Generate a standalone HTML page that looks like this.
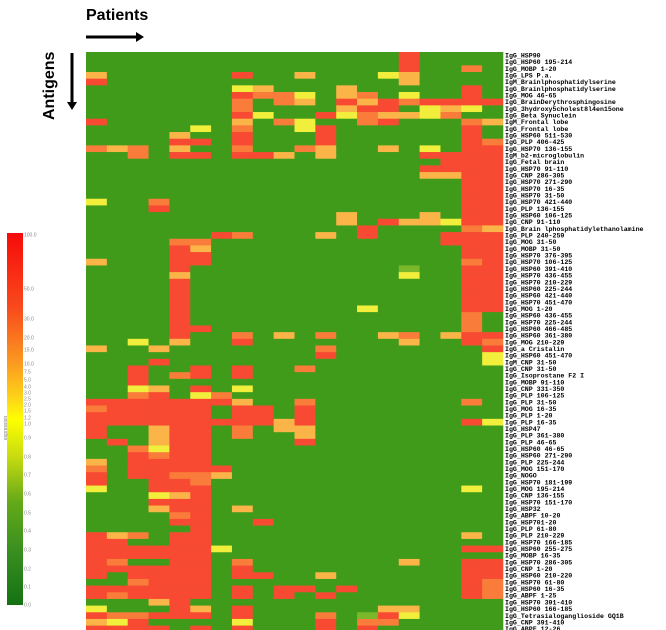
<!DOCTYPE html>
<html><head><meta charset="utf-8"><style>
html,body{margin:0;padding:0;background:#fff;}
svg{display:block;}
</style></head><body>
<svg id="chart" width="666" height="630" xmlns="http://www.w3.org/2000/svg">
<defs>
<linearGradient id="cbar" x1="0" y1="0" x2="0" y2="1">
<stop offset="0" stop-color="#f70a0a"/><stop offset="0.2" stop-color="#f84a1c"/><stop offset="0.35" stop-color="#fb9a20"/><stop offset="0.45" stop-color="#fdd818"/><stop offset="0.5" stop-color="#ffff00"/><stop offset="0.6" stop-color="#c8dc10"/><stop offset="0.72" stop-color="#66aa18"/><stop offset="0.85" stop-color="#3a9020"/><stop offset="1" stop-color="#137212"/>
</linearGradient>
</defs>
<text x="86" y="20" font-family="Liberation Sans, sans-serif" font-weight="bold" font-size="16" fill="#000">Patients</text>
<g><rect x="86" y="35.5" width="50" height="3" fill="#000"/><polygon points="136,32 144,37 136,42" fill="#000"/></g>
<text transform="translate(54,120) rotate(-90)" font-family="Liberation Sans, sans-serif" font-weight="bold" font-size="16" fill="#000">Antigens</text>
<g><rect x="70.5" y="53" width="3" height="50" fill="#000"/><polygon points="67,102 72,110 77,102" fill="#000"/></g>
<g id="cells"></g>
<g id="rowlabels"></g>
<rect x="7" y="233" width="16" height="372" fill="url(#cbar)"/>
<g id="legendticks"></g>
<text transform="translate(7,440) rotate(-90)" font-family="Liberation Sans, sans-serif" font-size="5" fill="#777">expression</text>
</svg>
<script>
const patients = ["P1","P2","P3","P4","P5","P6","P7","P8","P9","P10","P11","P12","P13","P14","P15","P16","P17","P18","P19","P20"];
const antigens = ["IgG_HSP90","IgG_HSP60 195-214","IgG_MOBP 1-20","IgG_LPS P.a.","IgM_Brainlphosphatidylserine","IgG_Brainlphosphatidylserine","IgG_MOG 46-65","IgG_BrainDerythrosphingosine","IgG_3hydroxy5cholest8l4en15one","IgG_Beta Synuclein","IgM_Frontal lobe","IgG_Frontal lobe","IgG_HSP60 511-530","IgG_PLP 406-425","IgG_HSP70 136-155","IgM_b2-microglobulin","IgG_Fetal brain","IgG_HSP70 91-110","IgG_CNP 286-305","IgG_HSP70 271-290","IgG_HSP70 16-35","IgG_HSP70 31-50","IgG_HSP70 421-440","IgG_PLP 136-155","IgG_HSP60 106-125","IgG_CNP 91-110","IgG_Brain lphosphatidylethanolamine","IgG_PLP 240-259","IgG_MOG 31-50","IgG_MOBP 31-50","IgG_HSP70 376-395","IgG_HSP70 106-125","IgG_HSP60 391-410","IgG_HSP70 436-455","IgG_HSP70 210-229","IgG_HSP60 225-244","IgG_HSP60 421-440","IgG_HSP70 451-470","IgG_MOG 1-20","IgG_HSP60 436-455","IgG_HSP70 225-244","IgG_HSP60 466-485","IgG_HSP60 361-380","IgG_MOG 210-229","IgG_a Cristalin","IgG_HSP60 451-470","IgM_CNP 31-50","IgG_CNP 31-50","IgG_Isoprostane F2 I","IgG_MOBP 91-110","IgG_CNP 331-350","IgG_PLP 106-125","IgG_PLP 31-50","IgG_MOG 16-35","IgG_PLP 1-20","IgG_PLP 16-35","IgG_HSP47","IgG_PLP 361-380","IgG_PLP 46-65","IgG_HSP60 46-65","IgG_HSP60 271-290","IgG_PLP 225-244","IgG_MOG 151-170","IgG_NOGO","IgG_HSP70 181-199","IgG_MOG 195-214","IgG_CNP 136-155","IgG_HSP70 151-170","IgG_HSP32","IgG_ABPF 10-20","IgG_HSP701-20","IgG_PLP 61-80","IgG_PLP 210-229","IgG_HSP70 166-185","IgG_HSP60 255-275","IgG_MOBP 16-35","IgG_HSP70 286-305","IgG_CNP 1-20","IgG_HSP60 210-220","IgG_HSP70 61-80","IgG_HSP60 16-35","IgG_ABPF 1-25","IgG_HSP70 391-410","IgG_HSP60 166-185","IgG_Tetrasialoganglioside GQ1B","IgG_CNP 391-410","IgG_ABPF 12-26"];
// expression level per code letter
const levelCodes = ["g","l","y","a","o","r"];
const levelValues = [0.25, 0.6, 1.0, 2.5, 7, 50];
// one string per antigen row, one letter per patient column
const rowCodes = [
"gggggggggggggggrgggg","gggggggggggggggrgggg","gggggggggggggggrggog","aggggggrggagggyagggg","rggggggggggggggagggg",
"gggggggyagggagggggrg","gggggggrooygaogyggrg","gggggggogoagrarorrrr","gggggggoggggarrgyayg","gggggggryggryoaayogg",
"rggggggagoyggorgggoa","gggggygoggyrggggggrg","ggggaggrgggrggggggrg","ggggrrgrgggrggggggro","oaogaggoggoaggagygrr",
"ggogrrgrragaggggrrrr","gggggggggggggggggrrr","ggggggggggggggggrrrr","ggggggggggggggggaarr","ggggggggggggggggggrr",
"ggggggggggggggggggrr","ggggggggggggggggggrr","yggoggggggggggggggrr","gggrggggggggggggggrr","ggggggggggggagggagrr",
"ggggggggggggagraayrr","gggggggggggggrggggoa","ggggggrogggagrgggrrr","ggggoogggggggggggrrr","ggggraggggggggggggrr",
"ggggrrggggggggggggrr","agggrrggggggggggggor","ggggrgggggggggglggrr","ggggaggggggggggyggrr","ggggrgggggggggggggrr",
"ggggrgggggggggggggrr","ggggrgggggggggggggrr","ggggrgggggggggggggrr","ggggrggggggggyggggrr","ggggrgggggggggggggog",
"ggggrgggggggggggggog","ggggrrggggggggggggog","ggggrggogagoggaogarr","ggygaggrgggggggaggro","aggagggggggogggggggr",
"gggggggggggrgggggggy","gggrgggggggggggggggy","ggrggrgrggoggggggggg","ggrgorgrgggggggggggg","ggrggggggggggggggggg",
"ggyagrgygggggggggggg","ggorgyoggggggggggggg","rrrrrrraggogggggggog","orrrrrgrrgrggggggggg","rrrrrrgrrgrggggggggg",
"rrrrrrrrrargggggggry","rggarrgogaaggggggggg","rggarrgoggaggggggggg","grgarrggggrggggggggg","ggoyrrgggggggggggggg",
"ggrorrgggggggggggggg","agrrrrgggggggggggggg","ogrrrrrggggggggggggg","rgrrooaggggggggggggg","rggrrogggggggggggggg",
"yggrrrggggggggggggyg","gggyargggggggggggggg","gggrrrgggggggggggggg","gggarrgagggggggggggg","ggggorgggggggggggggg",
"ggggrrggrggggggggggg","gggggrgggggggggggggg","raogrrggggggggggggag","rrggrrgggggggggggggg","rrrrrrygggggggggggrr",
"rrrrrrgggggggggggggg","roggrrgogggggggaggrr","rrrrrrgrggggggggggrr","rgrrrrgrrggaggggggrr","ggorrrggggggggggggro",
"rrrrrrgrgrrgrgggggro","rorrrrgrgrgrggggggro","gggarggggggggggggggg","ygggragrggggggaagggg","roorrrgrgggoglrygggg",
"ayrggggygggrgooggggg","rrrrgrgrgggrgrgggggg"
];
const legendLabels = ["100.0","50.0","30.0","20.0","15.0","10.0","7.5","5.0","4.0","3.0","2.5","2.0","1.5","1.2","1.0","0.9","0.8","0.7","0.6","0.5","0.4","0.3","0.2","0.1","0.0"];
const legendTickY = [235,289,319,338,350,364,372,380,387,393,399,405,411,418,424,438,457,475,494,513,531,550,569,587,605];

const NS = "http://www.w3.org/2000/svg";
const X0 = 86, CW = 20.85, Y0 = 52, RH = 6.67;
function xPos(c){ return X0 + c * CW; }
function yPos(r){ return Y0 + r * RH; }
function colorFor(v){
  if (v < 0.45) return "#419b1b";
  if (v < 0.8) return "#7ab82a";
  if (v < 1.5) return "#f2ef3c";
  if (v < 4) return "#fbb447";
  if (v < 15) return "#fa7c3a";
  return "#f84a32";
}
const cells = document.getElementById("cells");
const bg = document.createElementNS(NS, "rect");
bg.setAttribute("x", X0); bg.setAttribute("y", Y0);
bg.setAttribute("width", CW * patients.length); bg.setAttribute("height", RH * antigens.length);
bg.setAttribute("fill", "#419b1b");


cells.appendChild(bg);
rowCodes.forEach(function(codes, r){
  for (let c = 0; c < patients.length; c++) {
    const v = levelValues[levelCodes.indexOf(codes[c])];
    const rect = document.createElementNS(NS, "rect");
    rect.setAttribute("x", xPos(c).toFixed(2));
    rect.setAttribute("y", yPos(r).toFixed(2));
    rect.setAttribute("width", (CW + 0.3).toFixed(2));
    rect.setAttribute("height", (RH + 0.3).toFixed(2));
    rect.setAttribute("fill", colorFor(v));
    
    
    cells.appendChild(rect);
  }
});
const labels = document.getElementById("rowlabels");
antigens.forEach(function(name, r){
  const t = document.createElementNS(NS, "text");
  t.setAttribute("x", 505);
  t.setAttribute("y", (yPos(r) + RH - 1.2).toFixed(2));
  t.setAttribute("font-family", "Liberation Mono, monospace");
  t.setAttribute("font-weight", "bold");
  t.setAttribute("font-size", "6.6");
  t.setAttribute("fill", "#000");
  t.textContent = name;
  
  
  labels.appendChild(t);
});
const lt = document.getElementById("legendticks");
legendLabels.forEach(function(lab, i){
  const t = document.createElementNS(NS, "text");
  t.setAttribute("x", 24);
  t.setAttribute("y", legendTickY[i] + 1.5);
  t.setAttribute("font-family", "Liberation Sans, sans-serif");
  t.setAttribute("font-size", "5");
  t.setAttribute("fill", "#888");
  t.textContent = lab;
  
  
  lt.appendChild(t);
});
</script>
</body></html>
